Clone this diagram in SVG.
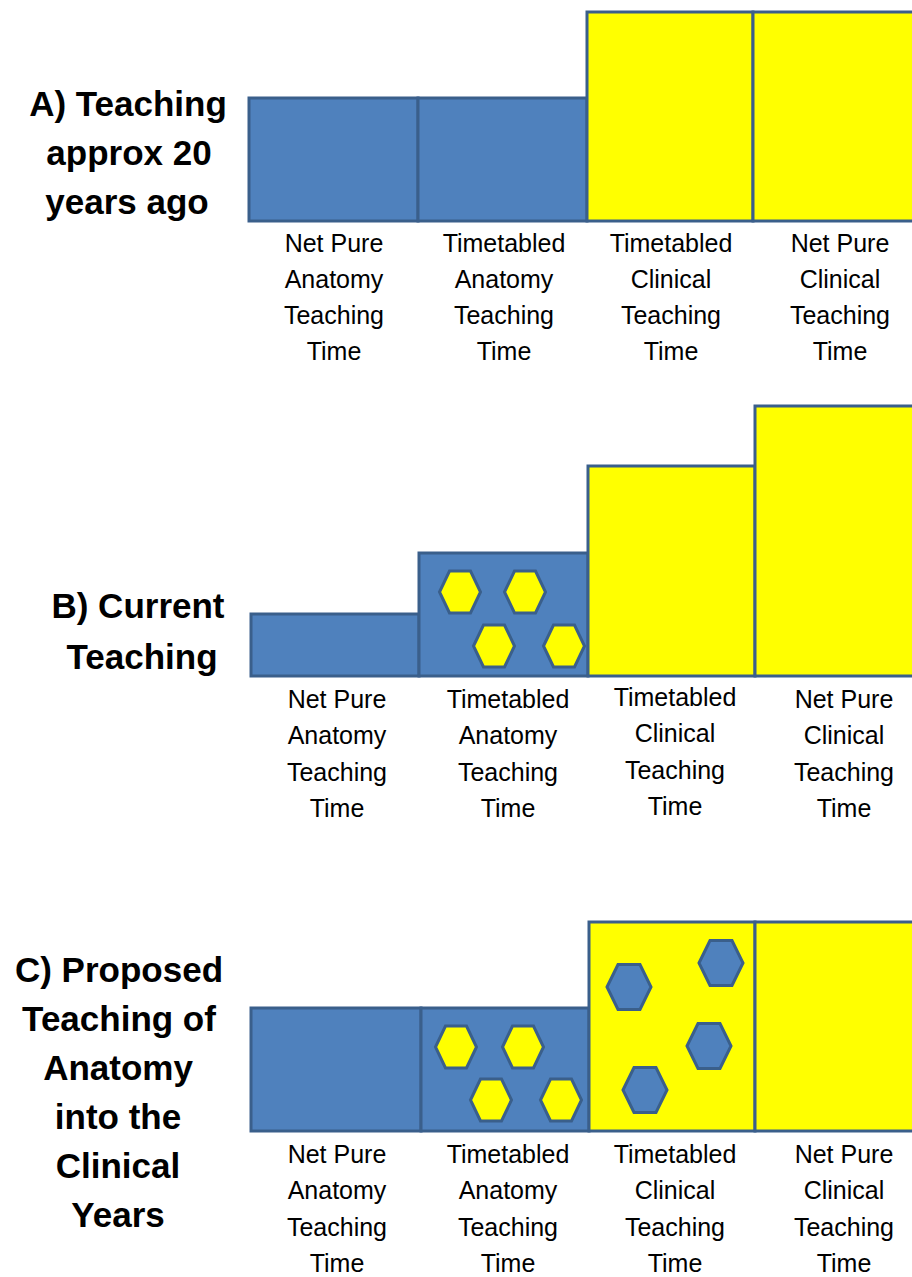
<svg xmlns="http://www.w3.org/2000/svg" xmlns:xlink="http://www.w3.org/1999/xlink" width="912" height="1277" viewBox="0 0 912 1277">
<style>
.blue{fill:#4f81bd;stroke:#3a5f8b;stroke-width:3}
.yel{fill:#ffff00;stroke:#3a5f8b;stroke-width:3}
.hy{fill:#ffff00;stroke:#3a5f8b;stroke-width:3}
.hb{fill:#4f81bd;stroke:#3a5f8b;stroke-width:3}
.lbl{font-family:"Liberation Sans",Arial,sans-serif;font-size:25px;fill:#000;text-anchor:middle}
.ttl{font-family:"Liberation Sans",Arial,sans-serif;font-size:35px;font-weight:bold;fill:#000;text-anchor:middle}
</style>
<defs>
<polygon id="hex" points="-20.5,0 -10.5,-21 10.5,-21 20.5,0 10.5,21 -10.5,21"/>
<polygon id="hexL" points="-22,0 -11,-22.5 11,-22.5 22,0 11,22.5 -11,22.5"/>
</defs>
<rect width="912" height="1277" fill="#fff"/>

<g id="panelA">
<g id="A-title">
<text class="ttl" x="128" y="116">A) Teaching</text>
<text class="ttl" x="129" y="165">approx 20</text>
<text class="ttl" x="127" y="214">years ago</text>
</g>
<g id="A-netpure-anatomy"><rect class="blue" x="249" y="98" width="169" height="123"/></g>
<g id="A-tt-anatomy"><rect class="blue" x="418" y="98" width="169" height="123"/></g>
<g id="A-tt-clinical"><rect class="yel" x="587" y="12" width="166" height="209"/></g>
<g id="A-netpure-clinical"><rect class="yel" x="753" y="12" width="165" height="209"/></g>
<g id="A-labels">
<text class="lbl" x="334" y="252">Net Pure</text><text class="lbl" x="334" y="288">Anatomy</text><text class="lbl" x="334" y="324">Teaching</text><text class="lbl" x="334" y="360">Time</text>
<text class="lbl" x="504" y="252">Timetabled</text><text class="lbl" x="504" y="288">Anatomy</text><text class="lbl" x="504" y="324">Teaching</text><text class="lbl" x="504" y="360">Time</text>
<text class="lbl" x="671" y="252">Timetabled</text><text class="lbl" x="671" y="288">Clinical</text><text class="lbl" x="671" y="324">Teaching</text><text class="lbl" x="671" y="360">Time</text>
<text class="lbl" x="840" y="252">Net Pure</text><text class="lbl" x="840" y="288">Clinical</text><text class="lbl" x="840" y="324">Teaching</text><text class="lbl" x="840" y="360">Time</text>
</g>
</g>

<g id="panelB">
<g id="B-title">
<text class="ttl" x="138" y="618">B) Current</text>
<text class="ttl" x="142" y="669">Teaching</text>
</g>
<g id="B-netpure-anatomy"><rect class="blue" x="251" y="614" width="168" height="62"/></g>
<g id="B-tt-anatomy"><rect class="blue" x="419" y="553" width="169" height="123"/>
<use href="#hex" xlink:href="#hex" class="hy" x="460" y="592"/>
<use href="#hex" xlink:href="#hex" class="hy" x="525" y="592"/>
<use href="#hex" xlink:href="#hex" class="hy" x="494" y="646"/>
<use href="#hex" xlink:href="#hex" class="hy" x="564" y="646"/>
</g>
<g id="B-tt-clinical"><rect class="yel" x="588" y="466" width="167" height="210"/></g>
<g id="B-netpure-clinical"><rect class="yel" x="755" y="406" width="163" height="270"/></g>
<g id="B-labels">
<text class="lbl" x="337" y="708">Net Pure</text><text class="lbl" x="337" y="744">Anatomy</text><text class="lbl" x="337" y="781">Teaching</text><text class="lbl" x="337" y="817">Time</text>
<text class="lbl" x="508" y="708">Timetabled</text><text class="lbl" x="508" y="744">Anatomy</text><text class="lbl" x="508" y="781">Teaching</text><text class="lbl" x="508" y="817">Time</text>
<text class="lbl" x="675" y="706">Timetabled</text><text class="lbl" x="675" y="742">Clinical</text><text class="lbl" x="675" y="779">Teaching</text><text class="lbl" x="675" y="815">Time</text>
<text class="lbl" x="844" y="708">Net Pure</text><text class="lbl" x="844" y="744">Clinical</text><text class="lbl" x="844" y="781">Teaching</text><text class="lbl" x="844" y="817">Time</text>
</g>
</g>

<g id="panelC">
<g id="C-title">
<text class="ttl" x="119" y="982">C) Proposed</text>
<text class="ttl" x="119" y="1031">Teaching of</text>
<text class="ttl" x="118" y="1080">Anatomy</text>
<text class="ttl" x="118" y="1129">into the</text>
<text class="ttl" x="118" y="1178">Clinical</text>
<text class="ttl" x="118" y="1227">Years</text>
</g>
<g id="C-netpure-anatomy"><rect class="blue" x="251" y="1008" width="170" height="123"/></g>
<g id="C-tt-anatomy"><rect class="blue" x="421" y="1008" width="168" height="123"/>
<use href="#hex" xlink:href="#hex" class="hy" x="456" y="1047"/>
<use href="#hex" xlink:href="#hex" class="hy" x="523" y="1047"/>
<use href="#hex" xlink:href="#hex" class="hy" x="491" y="1100"/>
<use href="#hex" xlink:href="#hex" class="hy" x="561" y="1100"/>
</g>
<g id="C-tt-clinical"><rect class="yel" x="589" y="922" width="166" height="209"/>
<use href="#hexL" xlink:href="#hexL" class="hb" x="629" y="987"/>
<use href="#hexL" xlink:href="#hexL" class="hb" x="721" y="963"/>
<use href="#hexL" xlink:href="#hexL" class="hb" x="709" y="1046"/>
<use href="#hexL" xlink:href="#hexL" class="hb" x="645" y="1090"/>
</g>
<g id="C-netpure-clinical"><rect class="yel" x="755" y="922" width="163" height="209"/></g>
<g id="C-labels">
<text class="lbl" x="337" y="1163">Net Pure</text><text class="lbl" x="337" y="1199">Anatomy</text><text class="lbl" x="337" y="1236">Teaching</text><text class="lbl" x="337" y="1272">Time</text>
<text class="lbl" x="508" y="1163">Timetabled</text><text class="lbl" x="508" y="1199">Anatomy</text><text class="lbl" x="508" y="1236">Teaching</text><text class="lbl" x="508" y="1272">Time</text>
<text class="lbl" x="675" y="1163">Timetabled</text><text class="lbl" x="675" y="1199">Clinical</text><text class="lbl" x="675" y="1236">Teaching</text><text class="lbl" x="675" y="1272">Time</text>
<text class="lbl" x="844" y="1163">Net Pure</text><text class="lbl" x="844" y="1199">Clinical</text><text class="lbl" x="844" y="1236">Teaching</text><text class="lbl" x="844" y="1272">Time</text>
</g>
</g>
<g id="connectors"/>
</svg>
